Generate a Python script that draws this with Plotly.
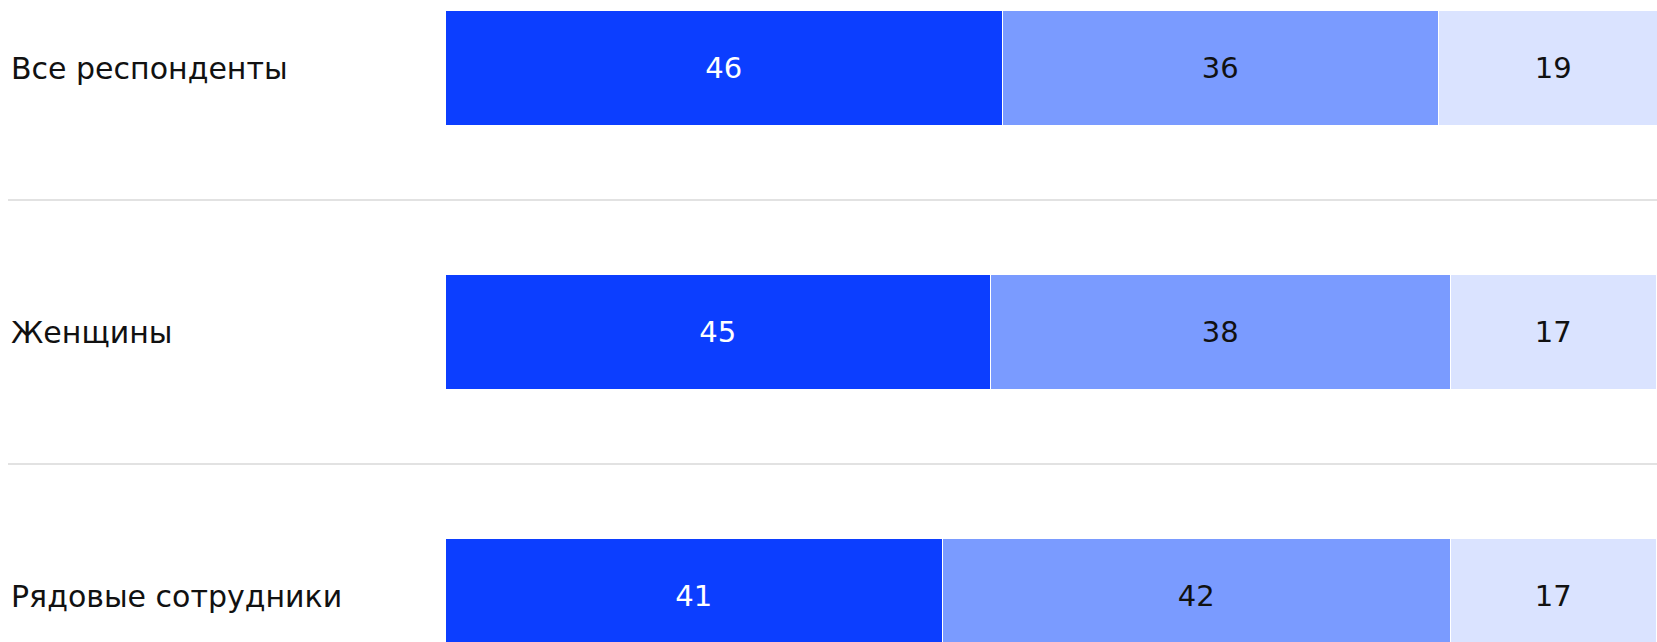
import plotly.graph_objects as go

categories = ["Все респонденты", "Женщины", "Рядовые сотрудники"]
series_names = ["Часть 1", "Часть 2", "Часть 3"]
values_1 = [46, 45, 41]
values_2 = [36, 38, 42]
values_3 = [19, 17, 17]

colors = ["#0C3EFF", "#7A9BFF", "#DAE3FF"]
text_colors = ["#FFFFFF", "#111111", "#111111"]
FONT = "'DejaVu Sans', sans-serif"

W, H = 1657, 642
y_pos = list(range(len(categories)))

fig = go.Figure()
for name, vals, col, tcol in zip(series_names, [values_1, values_2, values_3], colors, text_colors):
    fig.add_trace(go.Bar(
        y=y_pos, x=vals, name=name, orientation="h",
        width=0.436,
        marker=dict(color=col, line=dict(color="#FFFFFF", width=1.5)),
        text=[str(v) for v in vals],
        textposition="inside", insidetextanchor="middle", textangle=0,
        constraintext="none",
        textfont=dict(family=FONT, size=29, color=tcol),
        hoverinfo="skip",
    ))

# category labels on the left
for i, cat in enumerate(categories):
    fig.add_annotation(
        xref="paper", yref="y", x=9 / W, y=i, text=cat,
        xanchor="left", yanchor="middle", showarrow=False,
        font=dict(family=FONT, size=30, color="#111111"),
    )

# thin separators between rows
for yy in [0.5, 1.5]:
    fig.add_shape(
        type="line", xref="paper", yref="y", x0=8 / W, x1=1, y0=yy, y1=yy,
        line=dict(color="#E2E2E2", width=2), layer="below",
    )

fig.update_layout(
    width=W, height=H, barmode="stack", bargap=0,
    margin=dict(l=0, r=0, t=0, b=0),
    paper_bgcolor="white", plot_bgcolor="white",
    showlegend=False,
    xaxis=dict(domain=[446 / W, 1], range=[0, 100], visible=False, fixedrange=True),
    yaxis=dict(range=[2.174, -0.258], visible=False, fixedrange=True),
)

fig.write_html("out.html", config={"displayModeBar": False})
